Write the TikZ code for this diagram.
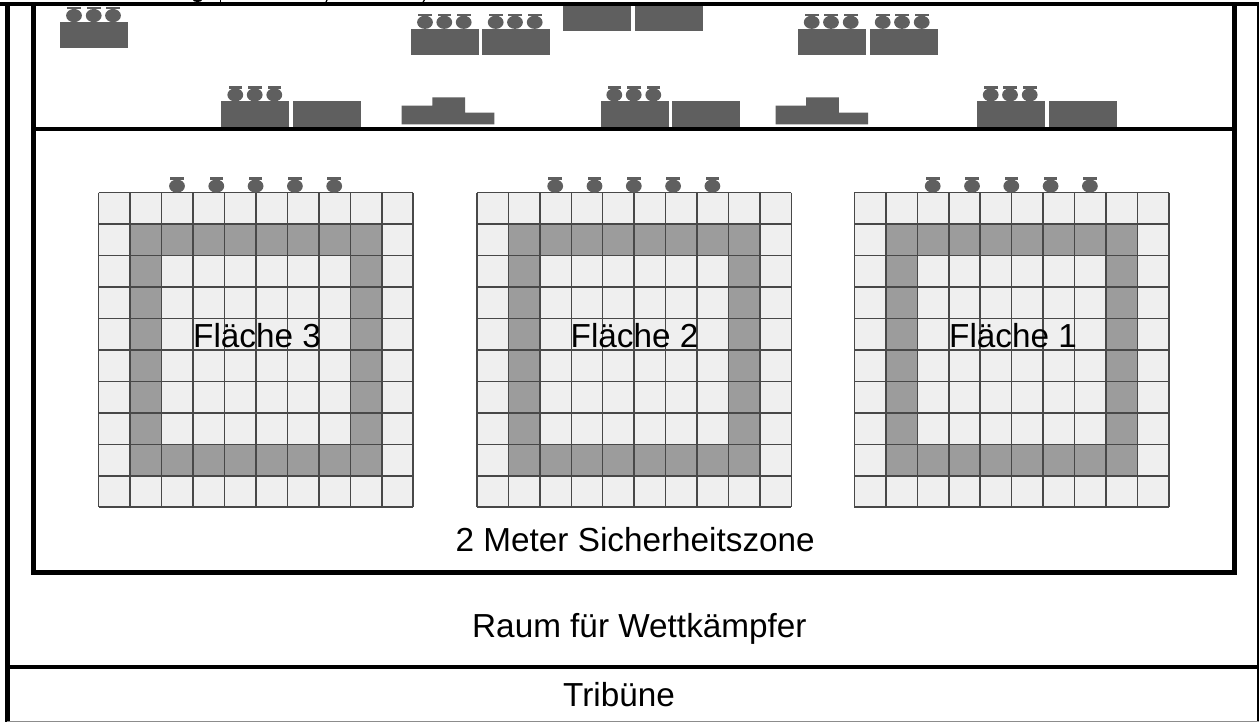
\documentclass[tikz,border=0pt]{standalone}
\usepackage{fontspec}
\setmainfont{Liberation Sans}
\newcommand{\PotAt}[2]{%
  \fill[potfill] (#1-6.8,#2) rectangle (#1+6.8,#2+2.3);
  \fill[potfill] (#1-2,#2) rectangle (#1+2,#2+5);
  \fill[potfill] (#1,#2+8.6) ellipse [x radius=7.9,y radius=6.6];
}
\newcommand{\PotRow}[2]{\foreach \px in {#1} {\PotAt{\px}{#2}}}
\newcommand{\MatAt}[1]{%
  \begin{scope}[shift={(#1,192.7)}]
    \fill[matlight] (0,0) rectangle (314.5,314.5);
    \fill[matdark,even odd rule] (31.45,31.45) rectangle (283.05,283.05)
                      (62.9,62.9) rectangle (251.6,251.6);
    \foreach \k in {0,...,10} {
      \draw[matline] ({\k*31.45},0) -- ({\k*31.45},314.5);
      \draw[matline] (0,{\k*31.45}) -- (314.5,{\k*31.45});
    }
    \PotRow{78.3,117.6,156.9,196.2,235.5}{-15.2}
  \end{scope}}
\tikzset{
  potfill/.style={fill=blockgrey},
  blockbox/.style={fill=blockgrey},
  matlight/.style={fill=matl},
  matdark/.style={fill=matd},
  matline/.style={draw=matg,line width=1.5pt},
  wall/.style={draw=black,line width=4.8pt,line cap=butt,line join=miter},
  wallthin/.style={draw=black,line width=4pt,line cap=butt},
  lbl/.style={anchor=base west,inner sep=0pt,font=\fontsize{33.3pt}{36pt}\selectfont,text=black},
  tip/.style={draw=black,line width=1.2pt}
}
\definecolor{blockgrey}{HTML}{5F5F5F}
\definecolor{matl}{HTML}{EFEFEF}
\definecolor{matd}{HTML}{9C9C9C}
\definecolor{matg}{HTML}{484848}
\begin{document}
\begin{tikzpicture}[x=1pt,y=-1pt]
\useasboundingbox (0,0) rectangle (1259,722);
\fill[white] (0,0) rectangle (1259,722);
% tables, upper row
\foreach \xa/\xb in {411/479,482.3/550.3,798/866.3,869.7/937.7} {
  \fill[blockbox] (\xa,29) rectangle (\xb,55);
}
\fill[blockbox] (60.3,21.7) rectangle (128.3,48);
\foreach \xa/\xb in {563.3/631.3,635/703} {
  \fill[blockbox] (\xa,3) rectangle (\xb,31.3);
}
% tables, lower row
\foreach \xa/\xb in {221.3/289.3,292.7/360.7,600.7/668.7,672.3/740.3,977.3/1045.3,1048.7/1116.7} {
  \fill[blockbox] (\xa,101.3) rectangle (\xb,129);
}
% stepped blocks
\foreach \ox in {401.7,775.5} {
  \fill[blockbox] (\ox,105.7) -| (\ox+30.6,97.3) -| (\ox+63.3,112.7) -| (\ox+92.6,124.3) -| cycle;
}
% pots on tables
\PotRow{74,93.7,113}{7}
\PotRow{425,444.3,463.7,495.7,515,534.7,811.7,831,850.7,882.7,902,921.7}{13.7}
\PotRow{235.3,254.7,274.3,614.3,633.7,653.3,990.7,1010,1029.7}{86.3}
% mats
\MatAt{98.7}
\MatAt{476.9}
\MatAt{854.4}
% walls
\draw[wall] (7.2,4) -- (7.2,722);
\draw[wall] (0,4) -- (1259,4);
\draw[draw=black,line width=2.6pt] (1258,4) -- (1258,722);
\draw[draw=black!45,line width=1.2pt] (7,721.3) -- (1259,721.3);
\draw[wall] (33.6,4) -- (33.6,572.8) -- (1234.6,572.8) -- (1234.6,4);
\draw[wallthin] (33.6,129.2) -- (1234.6,129.2);
\draw[wallthin] (7.2,667.4) -- (1258,667.4);
% clipped remains of the line above the picture
\draw[tip] (220.5,0) -- (220.5,2);
\draw[tip] (327,0) -- (326,2);
\draw[tip] (423,2) -- (424.5,0);
\fill[black] (197.5,0) ellipse [x radius=4.5,y radius=2];
% labels
\node[lbl] (f3) at (193,347) {Fläche 3};
\node[lbl] (f2) at (570.5,347) {Fläche 2};
\node[lbl] (f1) at (949,347) {Fläche 1};
\node[lbl] (zone) at (455.5,551.5) {2 Meter Sicherheitszone};
\node[lbl] (raum) at (472,637) {Raum für Wettkämpfer};
\node[lbl] (trib) at (563,706.5) {Tribüne};
\end{tikzpicture}
\end{document}
